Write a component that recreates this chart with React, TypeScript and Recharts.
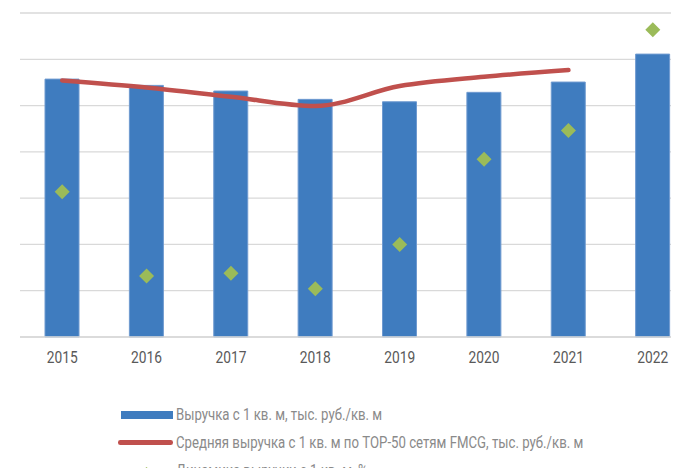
import { ComposedChart, Bar, Line, Scatter, XAxis, YAxis, CartesianGrid } from 'recharts'

const years = ['2015', '2016', '2017', '2018', '2019', '2020', '2021', '2022']
const revenue = [278.6, 271.8, 265.7, 256.7, 254.1, 264.3, 275.4, 305.6]
const topAvg: (number | null)[] = [277.2, 269.6, 259.5, 249.5, 271.1, 281.1, 288.3, null]
const dynamics = [5.7, -3.4, -3.1, -4.8, 0.0, 9.2, 12.3, 23.2]
const yTicks = [0, 50, 100, 150, 200, 250, 300, 350]

const BLUE = '#3F7CBF'
const RED = '#C0504D'
const GREEN = '#9BBB59'
const FONT = 'Roboto, "Noto Sans", sans-serif'

const data = years.map((y, i) => ({ year: y, revenue: revenue[i], top: topAvg[i], dyn: dynamics[i] }))

const Diamond = (props: any) => {
  const { cx, cy } = props
  if (cx == null || cy == null) return null
  const r = 7.5
  return <polygon points={`${cx},${cy - r} ${cx + r},${cy} ${cx},${cy + r} ${cx - r},${cy}`} fill={GREEN} />
}

// narrow-ish year labels (the source uses a condensed face)
const YearTick = (props: any) => {
  const { x, y, payload } = props
  return (
    <text transform={`translate(${x},${y}) scale(0.84,1)`} textAnchor="middle" dy="0.71em"
      fontSize={16.4} fill="#595959" fontFamily={FONT}>{payload.value}</text>
  )
}

const legendText = {
  position: 'absolute' as const, left: 176, fontFamily: FONT, fontSize: 16.5, color: '#8a8a8a',
  whiteSpace: 'nowrap' as const, transform: 'scaleX(0.8)', transformOrigin: 'left center', lineHeight: '28px', top: 0,
}
const row = { position: 'relative' as const, height: 28 }

export default function App() {
  return (
    <div style={{ margin: -8, width: 679, height: 476, overflow: 'hidden', position: 'relative', background: '#fff' }}>
      <ComposedChart width={700} height={376} data={data} margin={{ top: 13, right: 5, left: 20, bottom: 0 }}>
        <CartesianGrid yAxisId="left" vertical={false} stroke="#d9d9d9" strokeWidth={1.3} />
        <XAxis dataKey="year" tickLine={false} axisLine={{ stroke: '#d9d9d9', strokeWidth: 1.3 }} height={39} tickMargin={8}
          tick={<YearTick />} />
        <YAxis yAxisId="left" hide domain={[0, 350]} ticks={yTicks} />
        <YAxis yAxisId="right" orientation="right" hide domain={[-10, 25]} />
        <Bar yAxisId="left" dataKey="revenue" fill={BLUE} stroke="#6f9ad0" strokeWidth={1} barSize={34} isAnimationActive={false} />
        <Line yAxisId="left" type="monotone" dataKey="top" stroke={RED} strokeWidth={4.5} dot={false} strokeLinecap="round" connectNulls={false} isAnimationActive={false} />
        <Scatter yAxisId="right" dataKey="dyn" shape={<Diamond />} isAnimationActive={false} />
      </ComposedChart>
      <div style={{ position: 'absolute', left: 0, top: 400.5, width: 679 }}>
        <div style={row}>
          <div style={{ position: 'absolute', left: 121, top: 10, width: 52, height: 8, background: BLUE }} />
          <span style={legendText}>Выручка с 1 кв. м, тыс. руб./кв. м</span>
        </div>
        <div style={row}>
          <div style={{ position: 'absolute', left: 118, top: 11.5, width: 55, height: 4.6, borderRadius: 2.3, background: RED }} />
          <span style={legendText}>Средняя выручка с 1 кв. м по TOP-50 сетям FMCG, тыс. руб./кв. м</span>
        </div>
        <div style={row}>
          <div style={{ position: 'absolute', left: 144.2, top: 11.5, width: 5, height: 5, background: GREEN, transform: 'rotate(45deg)' }} />
          <span style={legendText}>Динамика выручки с 1 кв. м, %</span>
        </div>
      </div>
    </div>
  )
}
